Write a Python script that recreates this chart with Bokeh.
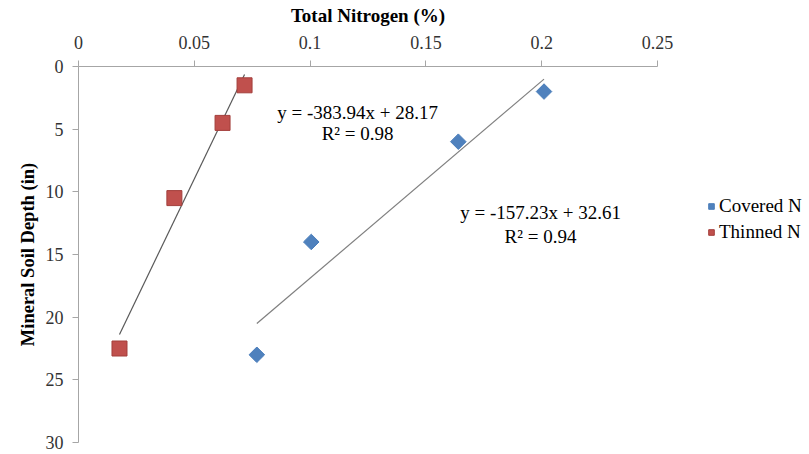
import math
from bokeh.plotting import figure
from bokeh.models import Range1d, Legend, LegendItem, Label, FixedTicker
from bokeh.embed import file_html
from bokeh.resources import INLINE

# ---- data ----
covered_n = [0.201, 0.164, 0.1005, 0.077]
covered_depth = [2.0, 6.0, 14.0, 23.0]
thinned_n = [0.0717, 0.0622, 0.0414, 0.0177]
thinned_depth = [1.5, 4.5, 10.5, 22.5]
covered_fit = [-157.23, 32.61]   # slope, intercept (depth = m*N + b)
thinned_fit = [-383.94, 28.17]
covered_r2 = 0.94
thinned_r2 = 0.98
x_ticks = [0, 0.05, 0.1, 0.15, 0.2, 0.25]
x_tick_labels = {0: "0", 0.05: "0.05", 0.1: "0.1", 0.15: "0.15", 0.2: "0.2", 0.25: "0.25"}
y_ticks = [0, 5, 10, 15, 20, 25, 30]

SERIF = "Liberation Serif"

p = figure(frame_width=579, frame_height=376, output_backend="svg", toolbar_location=None,
           x_axis_location="above",
           x_range=Range1d(0, 0.25), y_range=Range1d(30, 0),
           min_border_left=78, min_border_top=66, min_border_right=152, min_border_bottom=12)
p.outline_line_color = None
p.xgrid.grid_line_color = None
p.ygrid.grid_line_color = None
p.background_fill_color = "white"
p.border_fill_color = "white"

for ax in (p.xaxis[0], p.yaxis[0]):
    ax.axis_line_color = "#A6A6A6"
    ax.major_tick_line_color = "#A6A6A6"
    ax.minor_tick_line_color = None
    ax.major_tick_in = 0
    ax.major_tick_out = 6
    ax.major_label_text_font = SERIF
    ax.major_label_text_font_size = "18px"
    ax.major_label_text_color = "#333333"
    ax.axis_label_text_font = SERIF
    ax.axis_label_text_font_style = "bold"
    ax.axis_label_text_color = "black"

p.xaxis[0].ticker = FixedTicker(ticks=x_ticks)
p.xaxis[0].major_label_overrides = x_tick_labels
p.xaxis[0].axis_label = "Total Nitrogen (%)"
p.xaxis[0].axis_label_text_font_size = "19px"
p.xaxis[0].major_label_standoff = 12
p.xaxis[0].axis_label_standoff = 7

p.yaxis[0].ticker = FixedTicker(ticks=y_ticks)
p.yaxis[0].axis_label = "Mineral Soil Depth (in)"
p.yaxis[0].axis_label_text_font_size = "18.5px"
p.yaxis[0].major_label_standoff = 9
p.yaxis[0].axis_label_standoff = 5

# trendlines from fitted equations over data span
def fit_line(xs, fit):
    x0, x1 = min(xs), max(xs)
    return [x0, x1], [fit[0] * x0 + fit[1], fit[0] * x1 + fit[1]]

cx, cy = fit_line(covered_n, covered_fit)
tx, ty = fit_line(thinned_n, thinned_fit)
p.line(cx, cy, line_color="#7F7F7F", line_width=1.2)
p.line(tx, ty, line_color="#595959", line_width=1.2)

cov = p.scatter(covered_n, covered_depth, marker="square", size=11, angle=math.pi / 4,
                fill_color="#4F81BD", line_color="#4A7EBB", line_width=1)
thn = p.scatter(thinned_n, thinned_depth, marker="square", size=15,
                fill_color="#C0504D", line_color="#A33E3B", line_width=1)

def eq_text(fit):
    return "y = %.2fx + %.2f" % (fit[0], fit[1])

labels = [
    (0.1205, 3.64, eq_text(thinned_fit)),
    (0.1205, 5.38, "R² = %.2f" % thinned_r2),
    (0.1995, 11.64, eq_text(covered_fit)),
    (0.1995, 13.54, "R² = %.2f" % covered_r2),
]
for x, y, t in labels:
    p.add_layout(Label(x=x, y=y, text=t, text_font=SERIF, text_font_size="19px",
                       text_align="center", text_baseline="middle", text_color="black"))

legend = Legend(items=[LegendItem(label="Covered N", renderers=[cov]),
                       LegendItem(label="Thinned N", renderers=[thn])],
                location=(47, 199), orientation="vertical",
                label_text_font=SERIF, label_text_font_size="19px", label_text_color="black",
                glyph_width=14, glyph_height=20, label_standoff=1, label_height=20,
                spacing=4, padding=0, margin=0,
                background_fill_alpha=0, border_line_color=None)
p.add_layout(legend, "right")

open("out.html", "w").write(file_html(p, INLINE))
